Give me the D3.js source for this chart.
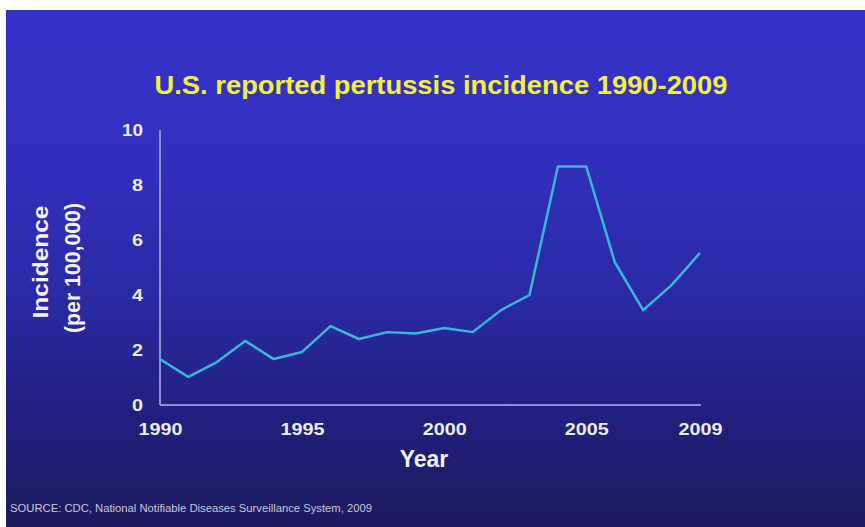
<!DOCTYPE html>
<html>
<head>
<meta charset="utf-8">
<script src="https://cdn.jsdelivr.net/npm/d3@7"></script>
<style>
  body { margin: 0; background: #fff; }
  svg { display: block; }
</style>
</head>
<body>
<div id="chart"></div>
<script>
var W = 865, H = 527;

var years = [1990, 1991, 1992, 1993, 1994, 1995, 1996, 1997, 1998, 1999,
             2000, 2001, 2002, 2003, 2004, 2005, 2006, 2007, 2008, 2009];
var incidence = [1.67, 1.02, 1.56, 2.33, 1.67, 1.93, 2.87, 2.4, 2.65, 2.6,
                 2.8, 2.65, 3.45, 4.0, 8.67, 8.67, 5.2, 3.45, 4.36, 5.53];
var xTicks = [1990, 1995, 2000, 2005, 2009];
var yTicks = [0, 2, 4, 6, 8, 10];

var fontFam = "Liberation Sans, Arial, Helvetica, sans-serif";

var svg = d3.select("#chart").append("svg")
	.attr("width", W)
	.attr("height", H);

var defs = svg.append("defs");
var grad = defs.append("linearGradient")
	.attr("id", "bg")
	.attr("x1", 0).attr("y1", 0).attr("x2", 0).attr("y2", 1);
grad.append("stop").attr("offset", "0%").attr("stop-color", "#3431c6");
grad.append("stop").attr("offset", "25%").attr("stop-color", "#3330c2");
grad.append("stop").attr("offset", "55%").attr("stop-color", "#2a29a4");
grad.append("stop").attr("offset", "80%").attr("stop-color", "#211f7c");
grad.append("stop").attr("offset", "100%").attr("stop-color", "#1b1a5e");

// background slide (white margin top/left)
svg.append("rect")
	.attr("x", 6)
	.attr("y", 10)
	.attr("width", W - 6)
	.attr("height", H - 10)
	.attr("fill", "url(#bg)");

var x = d3.scaleLinear().domain([1990, 2009]).range([160, 700]);
var y = d3.scaleLinear().domain([0, 10]).range([405, 130]);

// title
svg.append("text")
	.attr("x", 441)
	.attr("y", 94)
	.attr("text-anchor", "middle")
	.style("font-family", fontFam)
	.style("font-size", "25px")
	.style("font-weight", "bold")
	.attr("fill", "#f4f03a")
	.attr("textLength", 573)
	.attr("lengthAdjust", "spacingAndGlyphs")
	.text("U.S. reported pertussis incidence 1990-2009");

// axes
var xAxis = d3.axisBottom(x).tickValues(xTicks).tickFormat(d3.format("d")).tickSize(0).tickPadding(18);
var yAxis = d3.axisLeft(y).tickValues(yTicks).tickSize(0).tickPadding(17);

var gx = svg.append("g")
	.attr("transform", "translate(0," + y(0) + ")")
	.call(xAxis);
var gy = svg.append("g")
	.attr("transform", "translate(" + x(1990) + ",0)")
	.call(yAxis);

[gx, gy].forEach(function(g) {
	g.select(".domain")
		.attr("stroke", "#8f8fd6")
		.attr("stroke-width", 2);
	g.selectAll("text")
		.style("font-family", fontFam)
		.style("font-size", "17px")
		.style("font-weight", "bold")
		.attr("fill", "#ececf4")
		.attr("lengthAdjust", "spacingAndGlyphs");
});
gx.selectAll("text").attr("y", 18).attr("dy", "0.71em").attr("textLength", 44);
gy.selectAll("text").attr("textLength", function(d) { return d >= 10 ? 21 : 11; });
gx.select(".domain").attr("d", "M" + x(1990) + ",0H" + (x(2009) + 1));
gy.select(".domain").attr("d", "M0," + y(0) + "V" + y(10));

// line
var line = d3.line()
	.x(function(d, i) { return x(years[i]); })
	.y(function(d) { return y(d); });

svg.append("path")
	.datum(incidence)
	.attr("d", line)
	.attr("fill", "none")
	.attr("stroke", "#38b8d6")
	.attr("stroke-width", 2.5)
	.attr("stroke-linejoin", "round");

// axis titles
svg.append("text")
	.attr("x", 424)
	.attr("y", 467)
	.attr("text-anchor", "middle")
	.style("font-family", fontFam)
	.style("font-size", "23px")
	.style("font-weight", "bold")
	.attr("fill", "#f2f2f8")
	.text("Year");

var yl = svg.append("g")
	.attr("transform", "rotate(-90)")
	.style("font-family", fontFam)
	.style("font-size", "22px")
	.style("font-weight", "bold")
	.attr("fill", "#f2f2f8");
yl.append("text")
	.attr("x", -262)
	.attr("y", 48)
	.attr("text-anchor", "middle")
	.attr("textLength", 113)
	.attr("lengthAdjust", "spacingAndGlyphs")
	.text("Incidence");
yl.append("text")
	.attr("x", -268)
	.attr("y", 80)
	.attr("text-anchor", "middle")
	.attr("textLength", 130)
	.attr("lengthAdjust", "spacingAndGlyphs")
	.text("(per 100,000)");

// source
svg.append("text")
	.attr("x", 10)
	.attr("y", 512)
	.style("font-family", fontFam)
	.style("font-size", "10px")
	.attr("fill", "#c8c8dc")
	.attr("textLength", 362)
	.attr("lengthAdjust", "spacingAndGlyphs")
	.text("SOURCE: CDC, National Notifiable Diseases Surveillance System, 2009");
</script>
</body>
</html>
